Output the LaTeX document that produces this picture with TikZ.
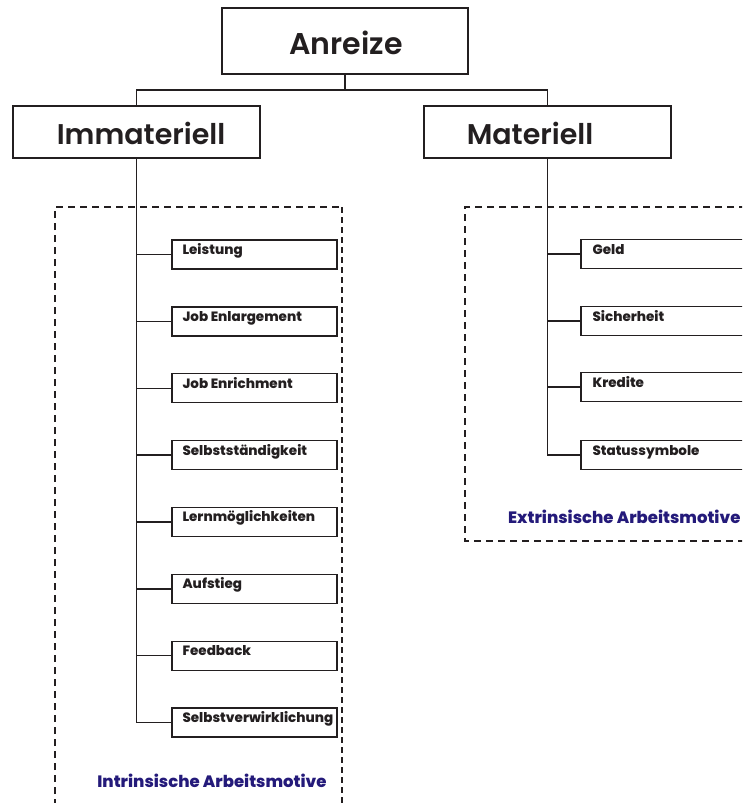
\documentclass[tikz,border=0pt]{standalone}
\usepackage{fontspec}
\setmainfont{Poppins}
\newfontfamily\semi{Poppins SemiBold}
\newfontfamily\heavy{Poppins ExtraBold}
\definecolor{ink}{RGB}{35,31,32}
\definecolor{navy}{RGB}{36,26,122}
\begin{document}
\begin{tikzpicture}[x=1pt,y=-1pt,
  bigbox/.style={draw=ink, line width=1.4pt, rectangle, inner sep=0pt, minimum width=247pt, minimum height=52pt},
  topbox/.style={draw=ink, line width=1.4pt, rectangle, inner sep=0pt, minimum width=246pt, minimum height=66pt},
  smallbox/.style={draw=ink, line width=1.3pt, rectangle, inner sep=0pt, minimum height=29pt},
  bigtxt/.style={inner sep=0pt, text=ink, font=\semi\fontsize{30}{32}\selectfont},
  midtxt/.style={inner sep=0pt, text=ink, font=\semi\fontsize{28.5}{30}\selectfont},
  smalltxt/.style={inner sep=0pt, anchor=base west, text=ink, font=\heavy\fontsize{13.5}{15}\selectfont},
  motivetxt/.style={inner sep=0pt, text=navy, font=\heavy\fontsize{16.5}{18}\selectfont},
  conn/.style={draw=ink, line width=1.4pt},
  thickdash/.style={draw=ink, line width=2.6pt, dash pattern=on 7pt off 5pt},
  thindash/.style={draw=ink, line width=1.1pt, dash pattern=on 6pt off 4pt}]
\clip (0,0) rectangle (742,803);
\fill[white] (0,0) rectangle (742,803);

% dashed frames
\draw[thickdash] (55,830) -- (55,207) -- (342,207);
\draw[thindash] (342,207) -- (342,830);
\draw[thickdash] (770,207) -- (465,207) -- (465,541) -- (770,541);

% top levels
\node[topbox] (anr) at (345,41) {};
\node[bigtxt] (anrt) at (346,43) {Anreize};
\node[bigbox] (imm) at (136.5,132) {};
\node[midtxt] (immt) at (141,133) {Immateriell};
\node[bigbox] (mat) at (547.5,132) {};
\node[midtxt] (matt) at (530,133) {Materiell};

\coordinate (bus) at (345,90);
\draw[conn] (anr.south) -- (bus);
\draw[conn] (imm.north) |- (bus) -| (mat.north);

% left children
\foreach \i/\t in {0/Leistung,1/Job Enlargement,2/Job Enrichment,3/Selbstständigkeit,4/Lernmöglichkeiten,5/Aufstieg,6/Feedback,7/Selbstverwirklichung}{
  \node[smallbox, minimum width=165pt] (L\i) at (254.5,254.5+66.86*\i) {};
  \node[smalltxt] (LT\i) at ([xshift=11pt]L\i.west) {\t};
}
\draw[conn] (imm.south) |- (L7.west);
\foreach \i in {0,...,6}{ \draw[conn] (L\i.west) -- (L\i.west -| imm.south); }

% right children
\foreach \i/\t/\y in {0/Geld/254,1/Sicherheit/321,2/Kredite/387,3/Statussymbole/455}{
  \node[smallbox, minimum width=240pt] (R\i) at (701,\y) {};
  \node[smalltxt] (RT\i) at ([xshift=12pt]R\i.west) {\t};
}
\draw[conn] (mat.south) |- (R3.west);
\foreach \i in {0,1,2}{ \draw[conn] (R\i.west) -- (R\i.west -| mat.south); }

% captions
\node[motivetxt] (intr) at (212,781) {Intrinsische Arbeitsmotive};
\node[motivetxt, anchor=west] (extr) at (508,517) {Extrinsische Arbeitsmotive};
\end{tikzpicture}
\end{document}
